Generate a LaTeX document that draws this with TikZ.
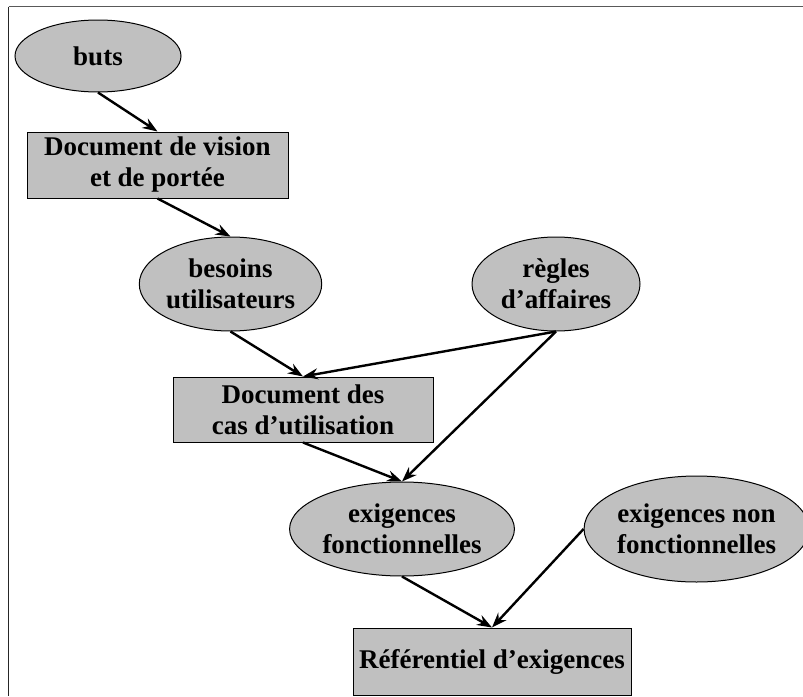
\documentclass[tikz,border=0pt]{standalone}
\usepackage{fontspec}
\setmainfont{Liberation Serif}
\usetikzlibrary{shapes.geometric,arrows.meta}
\definecolor{nodegray}{HTML}{C0C0C0}
\tikzset{
  base/.style={draw=black, line width=1pt, fill=nodegray, align=center, inner sep=0pt,
    font=\fontsize{27}{31}\selectfont\bfseries},
  oval/.style={base, ellipse},
  rectbox/.style={base, rectangle},
  link/.style={line width=2.4pt, -{Stealth[length=15pt,width=11pt,inset=5pt]}},
}
\begin{document}
\begin{tikzpicture}[x=1pt,y=-1pt]
\useasboundingbox (0,0) rectangle (803,696);
% frame (top and left edges visible)
\draw[line width=1.3pt, draw=black!65] (8.5,6.5) -- (803,6.5);
\draw[line width=1.3pt, draw=black!85] (8.5,6.5) -- (8.5,696);

\node[oval, minimum width=166pt, minimum height=72pt] (buts) at (98,56) {buts};
\node[rectbox, minimum width=261pt, minimum height=66pt] (vision) at (157.5,165) {Document de vision\\et de portée};
\node[oval, minimum width=179pt, minimum height=94pt] (besoins) at (230.5,284) {besoins\\utilisateurs};
\node[oval, minimum width=168pt, minimum height=94pt] (regles) at (556,284) {règles\\d’affaires};
\node[rectbox, minimum width=260pt, minimum height=65pt] (cas) at (303,409.5) {Document des\\cas d’utilisation};
\node[oval, minimum width=206pt, minimum height=94pt] (exf) at (402,529) {exigences\\fonctionnelles};
\node[oval, minimum width=211pt, minimum height=106pt] (exnf) at (696.5,529) {exigences non\\fonctionnelles};
\node[rectbox, minimum width=278pt, minimum height=67pt] (ref) at (492,661.5) {Référentiel d’exigences};

\draw[link] (buts.south) -- (vision.north);
\draw[link] (vision.south) -- (besoins.north);
\draw[link] (besoins.south) -- (cas.north);
\draw[link] (regles.south) -- (cas.north);
\draw[link] (regles.south) -- (exf.north);
\draw[link] (cas.south) -- (exf.north);
\draw[link] (exf.south) -- (ref.north);
\draw[link] (exnf.west) -- (ref.north);
\end{tikzpicture}
\end{document}
